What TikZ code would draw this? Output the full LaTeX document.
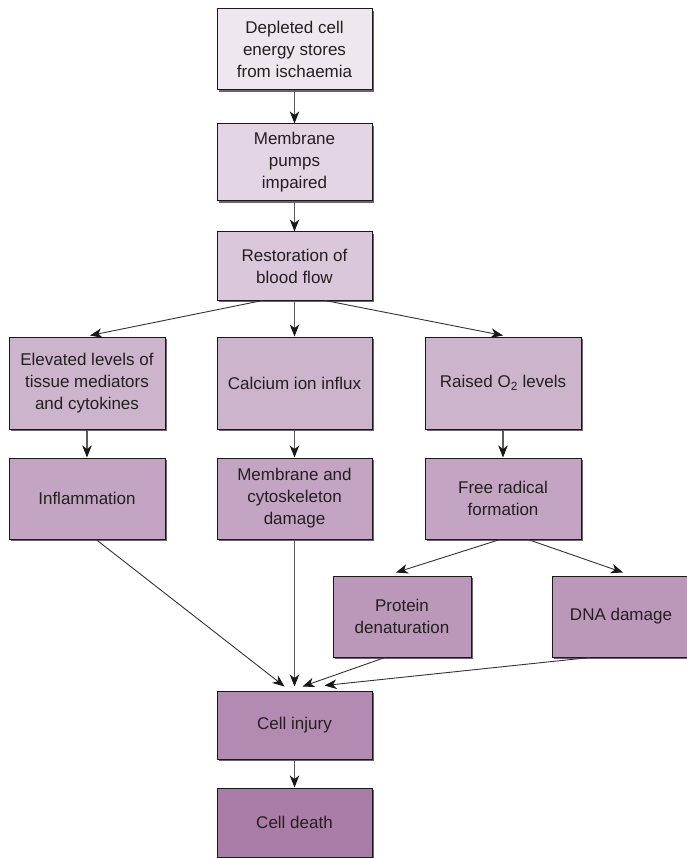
\documentclass[tikz,border=0pt]{standalone}
\usepackage{fontspec}
\setmainfont{Liberation Sans}
\usetikzlibrary{arrows.meta,shadows,calc}
\definecolor{cA}{HTML}{EFE7EF}
\definecolor{cB}{HTML}{E4D5E4}
\definecolor{cC}{HTML}{DAC7DB}
\definecolor{cD}{HTML}{CDB4CD}
\definecolor{cE}{HTML}{C3A5C3}
\definecolor{cF}{HTML}{BB97B9}
\definecolor{cG}{HTML}{B38BB2}
\definecolor{cH}{HTML}{A97DA7}
\definecolor{txt}{HTML}{231F20}
\begin{document}
\begin{tikzpicture}[x=1pt,y=-1pt,
  box/.style={rectangle, draw=black!90, line width=1pt, text=txt, align=center,
    font=\fontsize{17}{22}\selectfont, inner sep=2pt,
    drop shadow={shadow xshift=2pt, shadow yshift=-2pt, fill=black!60, opacity=1}},
  arr/.style={-{Stealth[length=12pt,width=9.5pt,inset=3.5pt,color=black!90]}, line width=0.9pt, draw=black!80},
  arrv/.style={arr, draw=black!65, line width=1.2pt}]
\fill[white] (0,0) rectangle (686,858);
\useasboundingbox (0,0) rectangle (686,858);

\node[box, fill=cA, minimum width=155pt, minimum height=81pt] (b1) at (294.5,49.5) {Depleted cell\\energy stores\\from ischaemia};
\node[box, fill=cB, minimum width=155pt, minimum height=77pt] (b2) at (294.5,162.5) {Membrane\\pumps\\impaired};
\node[box, fill=cC, minimum width=155pt, minimum height=68pt] (b3) at (294.5,266) {Restoration of\\blood flow};

\node[box, fill=cD, minimum width=156pt, minimum height=92pt] (elev) at (87,383) {Elevated levels of\\tissue mediators\\and cytokines};
\node[box, fill=cD, minimum width=155pt, minimum height=92pt] (calc) at (294.5,383) {Calcium ion influx};
\node[box, fill=cD, minimum width=156pt, minimum height=92pt] (raised) at (503,383) {Raised O\textsubscript{2} levels};

\node[box, fill=cE, minimum width=156pt, minimum height=81pt] (infl) at (87,498.5) {Inflammation};
\node[box, fill=cE, minimum width=155pt, minimum height=81pt] (memb) at (294.5,498.5) {Membrane and\\cytoskeleton\\damage};
\node[box, fill=cE, minimum width=156pt, minimum height=81pt] (free) at (503,498.5) {Free radical\\formation};

\node[box, fill=cF, minimum width=138pt, minimum height=81pt] (prot) at (402,616.5) {Protein\\denaturation};
\node[box, fill=cF, minimum width=138pt, minimum height=81pt] (dna) at (621,616.5) {DNA damage};

\node[box, fill=cG, minimum width=155pt, minimum height=68pt] (inj) at (294.5,725) {Cell injury};
\node[box, fill=cH, minimum width=155pt, minimum height=69pt] (death) at (294.5,822.5) {Cell death};

\draw[arrv] (b1) -- (b2);
\draw[arrv] (b2) -- (b3);
\draw[arr] ($(b3.south)+(-32,0)$) -- ($(elev.north)+(3,-1)$);
\draw[arrv] (b3) -- (calc);
\draw[arr] ($(b3.south)+(30.5,0)$) -- ($(raised.north)+(0,-1)$);
\draw[arrv] (elev) -- (infl);
\draw[arrv] (calc) -- (memb);
\draw[arrv] (raised) -- (free);
\draw[arr] ($(free.south)+(-3,0)$) -- ($(prot.north)+(-6,-3)$);
\draw[arr] ($(free.south)+(25,0)$) -- ($(dna.north)+(2,-3)$);
\draw[arr] ($(infl.south)+(9,0)$) -- ($(inj.north)+(-10,-4)$);
\draw[arrv] (memb.south) -- ($(inj.north)+(0,-4)$);
\draw[arr] ($(prot.south)+(-17,0)$) -- ($(inj.north)+(8,-4)$);
\draw[arr] ($(dna.south)+(-31,0)$) -- ($(inj.north)+(30,-5)$);
\draw[arrv] (inj) -- (death);
\end{tikzpicture}
\end{document}
